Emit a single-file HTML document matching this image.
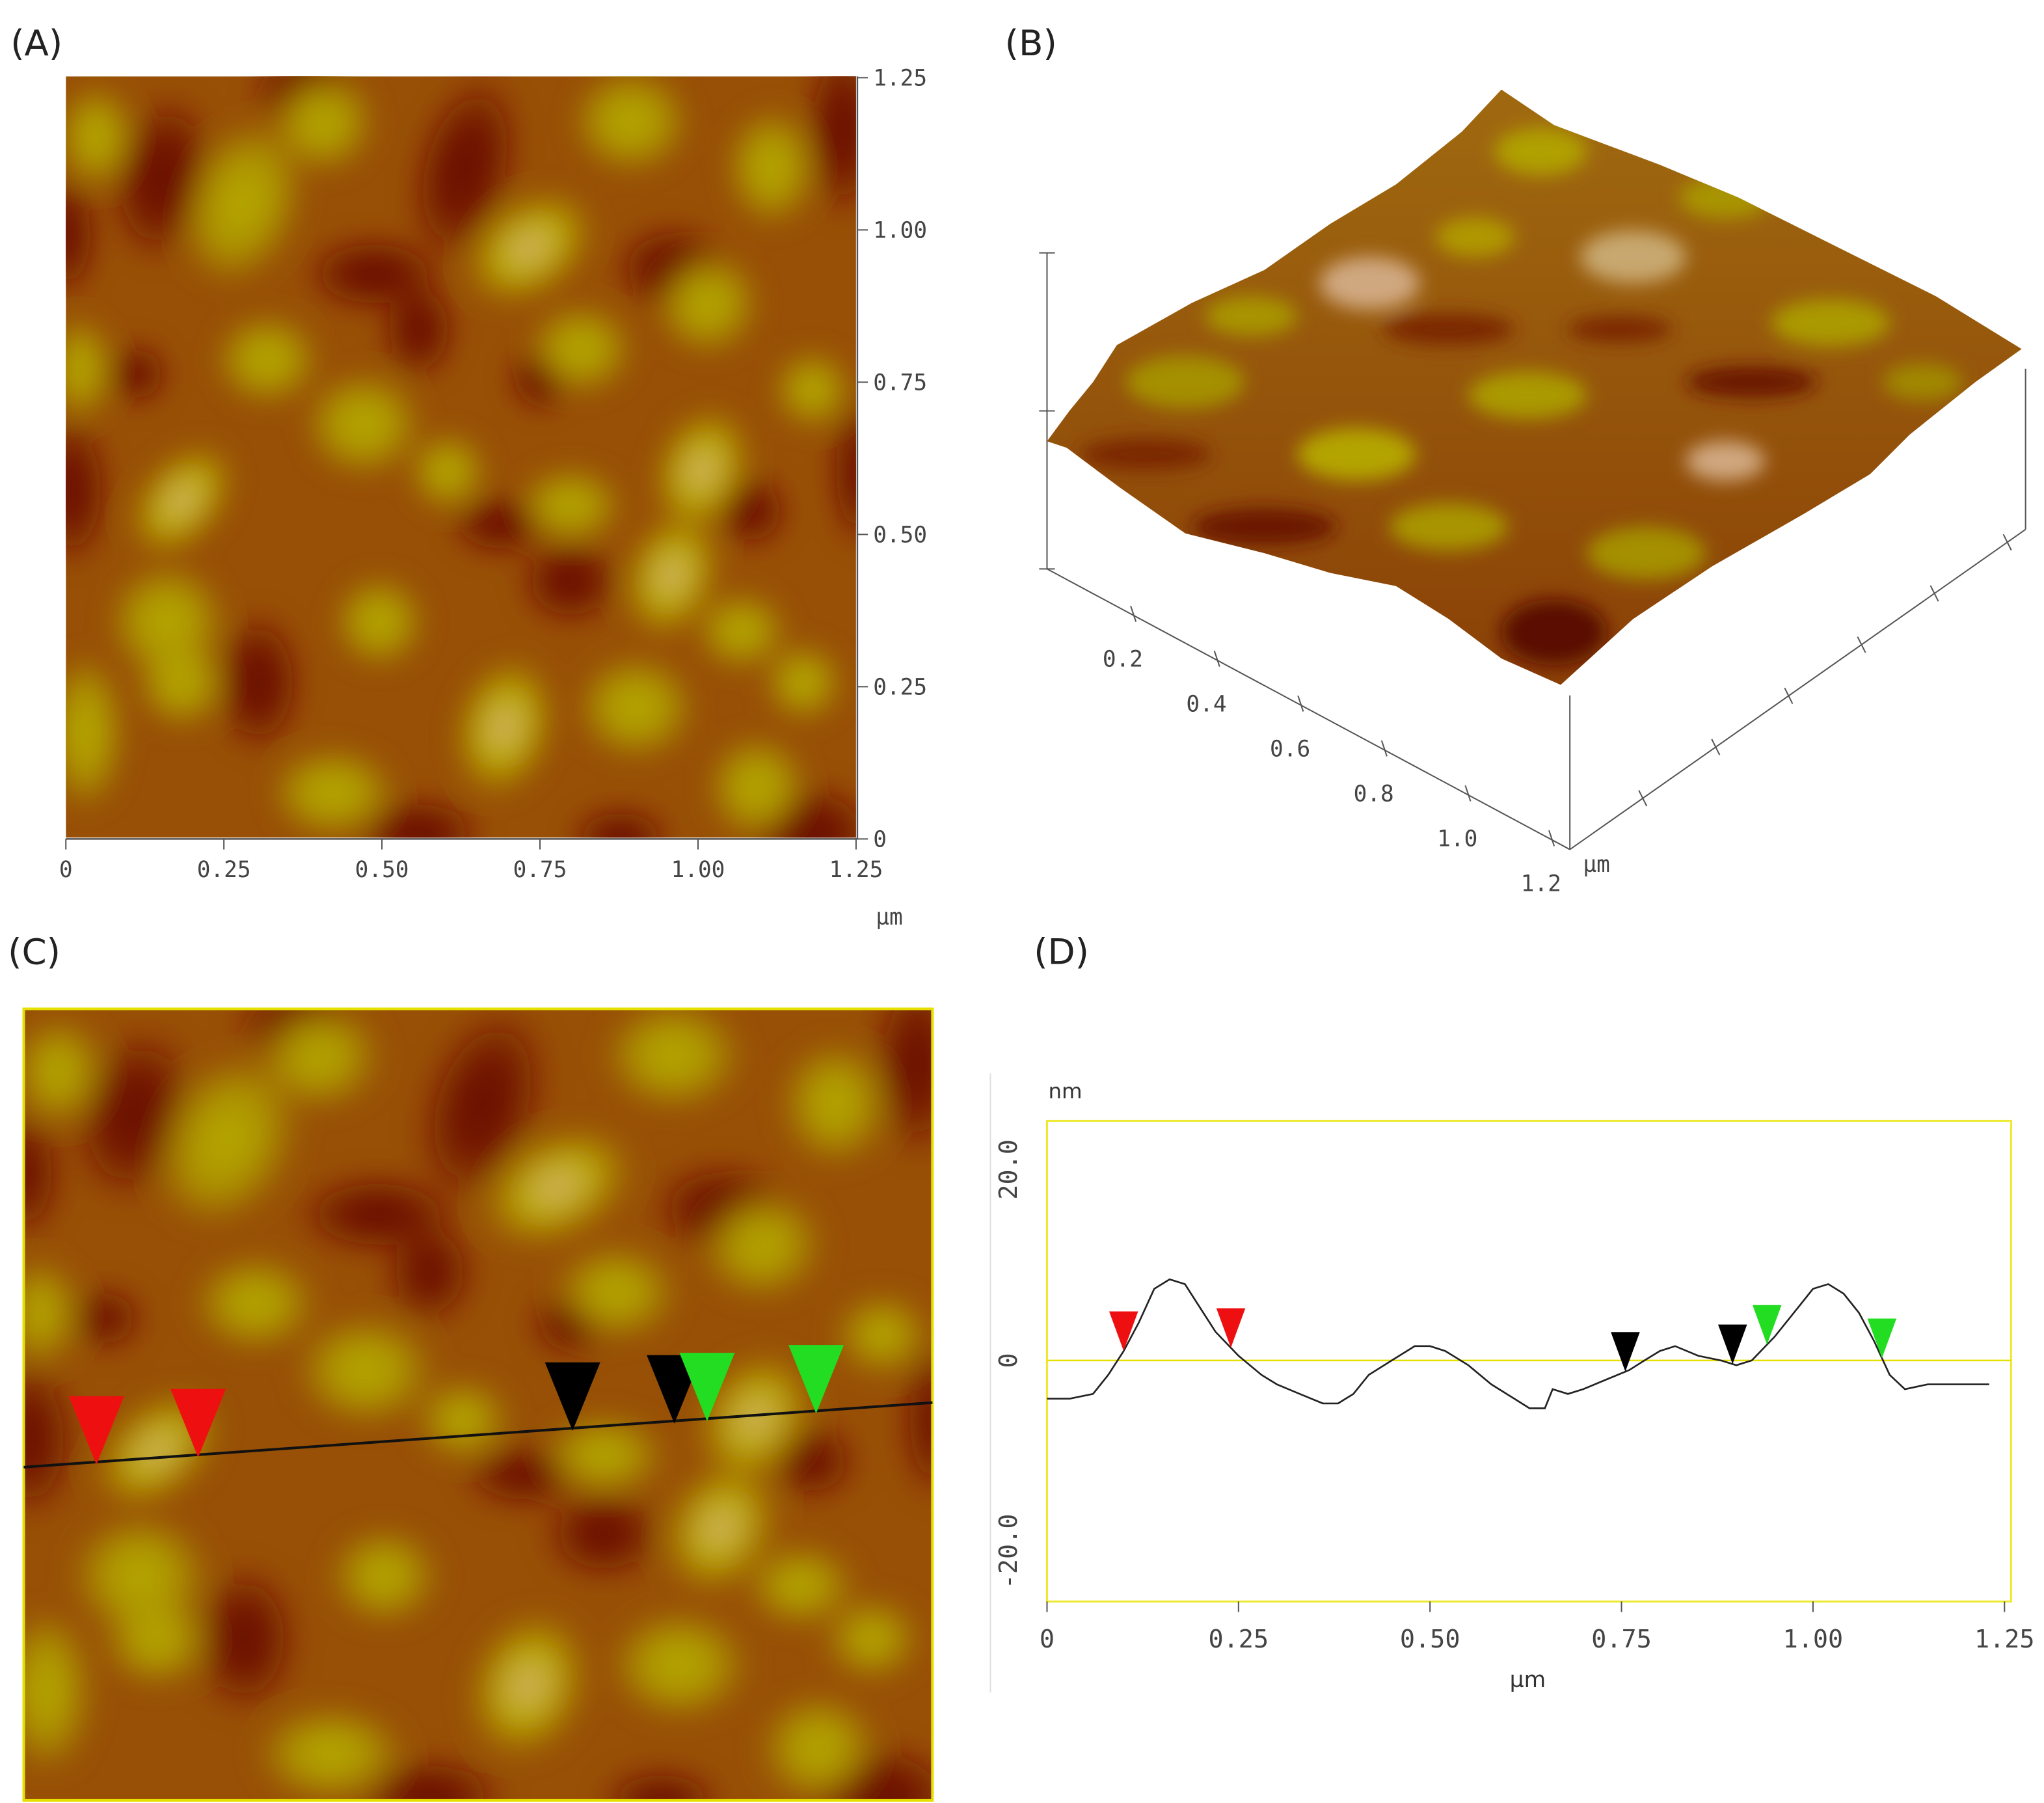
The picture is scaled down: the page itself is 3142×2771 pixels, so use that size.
<!DOCTYPE html>
<html><head><meta charset="utf-8"><style>
html,body{margin:0;padding:0;background:#fff;}
svg{display:block;font-family:"DejaVu Sans Mono","Liberation Mono",monospace;}
.lbl{font-family:"DejaVu Sans","Liberation Sans",sans-serif;font-size:27px;fill:#222;}
.tk{font-size:17px;fill:#444;}
</style></head><body>
<svg id="fig" width="3142" height="2771" viewBox="0 0 1552 1369" preserveAspectRatio="none" xmlns="http://www.w3.org/2000/svg">
<defs>
<filter id="blur" x="-20%" y="-20%" width="140%" height="140%"><feGaussianBlur stdDeviation="10"/></filter>
<filter id="blur2"><feGaussianBlur stdDeviation="7"/></filter>
<clipPath id="clipA"><rect x="0" y="0" width="600" height="578"/></clipPath>
<radialGradient id="gy"><stop offset="0" stop-color="#b8ae00"/><stop offset="0.6" stop-color="#b0a000" stop-opacity="0.8"/><stop offset="1" stop-color="#b0a000" stop-opacity="0"/></radialGradient>
<radialGradient id="gl"><stop offset="0" stop-color="#d8aa80"/><stop offset="0.45" stop-color="#bcb000"/><stop offset="1" stop-color="#b8a800" stop-opacity="0"/></radialGradient>
<radialGradient id="gd"><stop offset="0" stop-color="#640800"/><stop offset="0.5" stop-color="#700f00" stop-opacity="0.85"/><stop offset="1" stop-color="#701000" stop-opacity="0"/></radialGradient>
<g id="topo" clip-path="url(#clipA)">
 <rect x="0" y="0" width="600" height="578" fill="#985006"/>
 <g id="blobs"></g>
</g>
<clipPath id="clipB"><polygon points="795,335 812,312 830,290 848,262 905,230 960,205 1010,170 1060,140 1110,100 1140,68 1180,95 1260,125 1320,150 1400,190 1470,225 1535,265 1500,290 1450,330 1420,360 1370,390 1300,430 1240,470 1185,520 1140,500 1100,470 1060,445 1010,435 960,420 900,405 850,370 810,340"/></clipPath>
<linearGradient id="bg3d" x1="0" y1="0" x2="0" y2="1"><stop offset="0" stop-color="#a06a10"/><stop offset="1" stop-color="#8a4006"/></linearGradient>
</defs>

<text class="lbl" x="8" y="42">(A)</text>
<text class="lbl" x="763" y="42">(B)</text>
<text class="lbl" x="6" y="732">(C)</text>
<text class="lbl" x="785" y="732">(D)</text>

<g>
 <use href="#topo" transform="translate(50,58)"/>
 <line x1="651" y1="58" x2="651" y2="637" stroke="#555" stroke-width="1.2"/>
 <line x1="50" y1="637" x2="651" y2="637" stroke="#555" stroke-width="1.2"/>
 <g id="axA"></g>
 <text class="tk" x="665" y="702" font-size="14">µm</text>
</g>

<g>
 <line x1="795" y1="192" x2="795" y2="432" stroke="#555"/>
 <line x1="789" y1="192" x2="801" y2="192" stroke="#555"/>
 <line x1="789" y1="312" x2="801" y2="312" stroke="#555"/>
 <line x1="789" y1="432" x2="801" y2="432" stroke="#555"/>
 <line x1="795" y1="432" x2="1192" y2="645" stroke="#555"/>
 <line x1="1192" y1="645" x2="1538" y2="402" stroke="#555"/>
 <line x1="1192" y1="528" x2="1192" y2="645" stroke="#555"/>
 <line x1="1538" y1="280" x2="1538" y2="402" stroke="#555"/>
 <g id="axB"></g>
 <g clip-path="url(#clipB)">
  <rect x="790" y="60" width="750" height="470" fill="url(#bg3d)"/>
  <g filter="url(#blur2)">
   <ellipse cx="1040" cy="215" rx="38" ry="20" fill="#d0a880"/>
   <ellipse cx="1240" cy="195" rx="40" ry="20" fill="#c8a870"/>
   <ellipse cx="1310" cy="350" rx="30" ry="15" fill="#d0a880"/>
   <ellipse cx="1170" cy="115" rx="35" ry="18" fill="#b0a000"/>
   <ellipse cx="1030" cy="345" rx="45" ry="20" fill="#b4a400"/>
   <ellipse cx="1160" cy="300" rx="45" ry="18" fill="#aa9a00"/>
   <ellipse cx="1390" cy="245" rx="45" ry="18" fill="#aa9a00"/>
   <ellipse cx="900" cy="290" rx="45" ry="20" fill="#a49000"/>
   <ellipse cx="1250" cy="420" rx="45" ry="20" fill="#a49000"/>
   <ellipse cx="1120" cy="180" rx="30" ry="15" fill="#b09800"/>
   <ellipse cx="1310" cy="150" rx="35" ry="16" fill="#a89400"/>
   <ellipse cx="950" cy="240" rx="35" ry="15" fill="#a89400"/>
   <ellipse cx="1100" cy="400" rx="45" ry="18" fill="#a89400"/>
   <ellipse cx="1460" cy="290" rx="30" ry="14" fill="#a08800"/>
   <ellipse cx="960" cy="400" rx="55" ry="14" fill="#6a1805"/>
   <ellipse cx="1180" cy="480" rx="40" ry="25" fill="#5a1003"/>
   <ellipse cx="1330" cy="290" rx="50" ry="12" fill="#6a1805"/>
   <ellipse cx="1100" cy="250" rx="50" ry="12" fill="#7a2806"/>
   <ellipse cx="1230" cy="250" rx="40" ry="10" fill="#7a2806"/>
   <ellipse cx="870" cy="345" rx="50" ry="12" fill="#7a2806"/>
  </g>
 </g>
 <text class="tk" x="1202" y="662" font-size="14">µm</text>
</g>

<g>
 <use href="#topo" transform="translate(18,766) scale(1.15,1.04)"/>
 <rect x="18" y="766" width="690" height="601" fill="none" stroke="#e6e000" stroke-width="2"/>
 <line x1="18" y1="1114" x2="708" y2="1065" stroke="#111" stroke-width="2"/>
 <g id="markC"></g>
</g>

<g>
 <line x1="752" y1="815" x2="752" y2="1285" stroke="#e0e0e0"/>
 <rect x="795" y="851" width="732" height="365" fill="#fff" stroke="#eeea30" stroke-width="1.5"/>
 <g id="axD"></g>
 <text x="796" y="834" font-family="DejaVu Sans, sans-serif" font-size="16" fill="#333">nm</text>
 <text x="1160" y="1281" text-anchor="middle" font-family="DejaVu Sans, sans-serif" font-size="17" fill="#333">µm</text>
 <g id="plotD"></g>
</g>
</svg>
<script>
const profX = [0,0.03,0.06,0.08,0.10,0.12,0.14,0.16,0.18,0.20,0.22,0.25,0.28,0.30,0.33,0.36,0.38,0.40,0.42,0.45,0.48,0.50,0.52,0.55,0.58,0.61,0.63,0.65,0.66,0.68,0.70,0.73,0.76,0.78,0.80,0.82,0.85,0.88,0.90,0.92,0.95,0.98,1.00,1.02,1.04,1.06,1.08,1.10,1.12,1.15,1.20,1.23];
const profY = [-4,-4,-3.5,-1.5,1,4,7.5,8.5,8,5.5,3,0.5,-1.5,-2.5,-3.5,-4.5,-4.5,-3.5,-1.5,0,1.5,1.5,1,-0.5,-2.5,-4,-5,-5,-3,-3.5,-3,-2,-1,0,1,1.5,0.5,0,-0.5,0,2.5,5.5,7.5,8,7,5,2,-1.5,-3,-2.5,-2.5,-2.5];
const markX = [0.10,0.24,0.755,0.895,0.94,1.09];
const markColor = ["#ee1010","#ee1010","#000000","#000000","#22dd22","#22dd22"];
const xTicksD = [0,0.25,0.5,0.75,1.0,1.25];
const xTickLabelsD = ["0","0.25","0.50","0.75","1.00","1.25"];
const yTicksD = [20,0,-20];
const yTickLabelsD = ["20.0","0","-20.0"];
const aTicks = [0,0.25,0.5,0.75,1.0,1.25];
const aTickLabels = ["0","0.25","0.50","0.75","1.00","1.25"];
const bTicks = [0.2,0.4,0.6,0.8,1.0,1.2];
const bTickLabels = ["0.2","0.4","0.6","0.8","1.0","1.2"];

const NS="http://www.w3.org/2000/svg";
function mk(tag, attrs, parent){const e=document.createElementNS(NS,tag);for(const k in attrs)e.setAttribute(k,attrs[k]);parent.appendChild(e);return e;}
const xD=v=>795+v/1.25*727, yD=v=>1033-v*7.25;

const blobs=document.getElementById('blobs');
const f=mk('g',{filter:'url(#blur)'},blobs);
function bl(b){mk('ellipse',{cx:0,cy:0,rx:b[2],ry:b[3],fill:'url(#'+b[4]+')',transform:'translate('+b[0]+','+b[1]+') rotate('+(b[5]||0)+')'},f);}
// dark regions
[[73,77,40,65,'gd',10],[303,70,40,75,'gd',15],[234,150,55,30,'gd'],[590,40,30,70,'gd'],[383,383,40,35,'gd'],[4,314,30,60,'gd'],[146,460,35,55,'gd'],[460,146,45,35,'gd'],[268,575,50,30,'gd'],[567,575,50,40,'gd'],[421,578,40,25,'gd'],[54,226,25,25,'gd'],[268,192,30,40,'gd'],[600,300,20,60,'gd'],[180,10,40,30,'gd'],[330,340,40,25,'gd'],[520,330,30,30,'gd'],[0,120,25,50,'gd'],[360,230,25,25,'gd']].forEach(bl);
// yellow / bright regions
[[134,96,45,65,'gy',20],[352,130,55,38,'gl',-35],[429,34,45,40,'gy'],[195,34,40,40,'gy'],[88,322,50,32,'gl',-50],[226,264,45,40,'gy'],[483,299,36,50,'gl',20],[460,379,36,50,'gl',20],[333,494,38,55,'gl',15],[433,479,45,40,'gy'],[203,544,48,35,'gy'],[525,540,38,40,'gy'],[77,414,45,45,'gy'],[88,460,35,35,'gy'],[11,222,25,40,'gy'],[15,498,30,60,'gy'],[383,326,40,30,'gy'],[487,172,40,40,'gy'],[513,421,35,30,'gy'],[536,69,35,45,'gy'],[391,207,40,35,'gy'],[153,215,40,35,'gy'],[23,46,30,40,'gy'],[567,238,30,30,'gy'],[238,414,35,35,'gy'],[290,300,30,30,'gy'],[560,460,30,30,'gy']].forEach(bl);

const axA=document.getElementById('axA');
aTicks.forEach((t,i)=>{
 const x=50+t/1.25*600, y=637-t/1.25*578;
 mk('line',{x1:x,y1:637,x2:x,y2:645,stroke:'#555'},axA);
 mk('line',{x1:651,y1:y,x2:659,y2:y,stroke:'#555'},axA);
 const tx=mk('text',{x:x,y:666,'text-anchor':'middle',class:'tk'},axA);tx.textContent=aTickLabels[i];
 
 
 const ty=mk('text',{x:663,y:y+6,class:'tk'},axA);ty.textContent=aTickLabels[i];
 
 
});
const axB=document.getElementById('axB');
bTicks.forEach((t,i)=>{
 const fr=t/1.25, x=795+fr*397, y=432+fr*213;
 mk('line',{x1:x,y1:y-6,x2:x+4,y2:y+6,stroke:'#555'},axB);
 const tx=mk('text',{x:x-6,y:y+40,'text-anchor':'middle',class:'tk'},axB);tx.textContent=bTickLabels[i];
 
 
 const x2=1192+fr*346, y2=645-fr*243;
 mk('line',{x1:x2-3,y1:y2-6,x2:x2+3,y2:y2+6,stroke:'#555'},axB);
});
const markC=document.getElementById('markC');
markX.forEach((v,i)=>{
 const x=18+v/1.25*690, y=1114-(x-18)*49/690;
 const p=mk('polygon',{points:(x-21)+','+(y-50)+' '+(x+21)+','+(y-50)+' '+x+','+(y+2),fill:markColor[i]},markC);
 
 
});
const axD=document.getElementById('axD');
xTicksD.forEach((t,i)=>{
 const x=xD(t);
 mk('line',{x1:x,y1:1216,x2:x,y2:1224,stroke:'#555'},axD);
 const tx=mk('text',{x:x,y:1251,'text-anchor':'middle',class:'tk',style:'font-size:19px'},axD);tx.textContent=xTickLabelsD[i];
 
 
});
yTicksD.forEach((t,i)=>{
 const y=yD(t);
 const tx=mk('text',{x:0,y:0,'text-anchor':'middle',class:'tk',style:'font-size:19px',transform:'translate(772,'+y+') rotate(-90)'},axD);tx.textContent=yTickLabelsD[i];
 
 
});
const plotD=document.getElementById('plotD');
const zl=mk('line',{x1:795,y1:yD(0),x2:1527,y2:yD(0),stroke:'#e6e000','stroke-width':1.2},plotD);


const d=profX.map((v,i)=>(i?'L':'M')+xD(v).toFixed(1)+','+yD(profY[i]).toFixed(1)).join(' ');
const pl=mk('path',{d:d,fill:'none',stroke:'#222','stroke-width':1.3},plotD);


function interp(x){for(let i=1;i<profX.length;i++){if(x<=profX[i]){const t=(x-profX[i-1])/(profX[i]-profX[i-1]);return profY[i-1]+t*(profY[i]-profY[i-1]);}}return profY[profY.length-1];}
markX.forEach((v,i)=>{
 const x=xD(v), y=yD(interp(v));
 const p=mk('polygon',{points:(x-11)+','+(y-30)+' '+(x+11)+','+(y-30)+' '+x+','+y,fill:markColor[i]},plotD);
 
 
});
</script>
</body></html>
